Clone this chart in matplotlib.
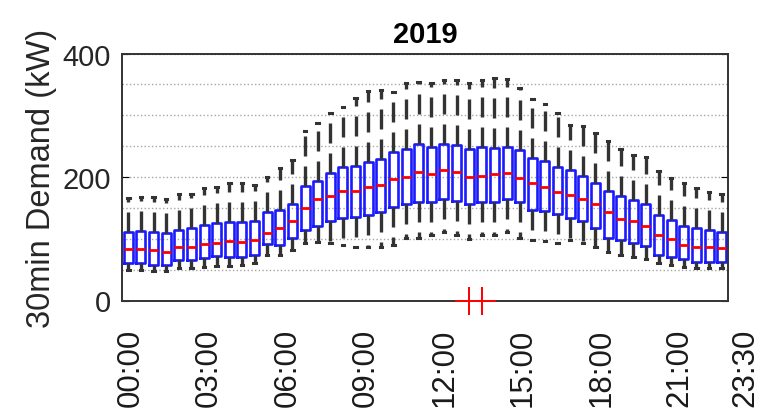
import numpy as np
import matplotlib
matplotlib.use("Agg")
import matplotlib.pyplot as plt

plt.rcParams['font.family'] = ['Liberation Sans', 'DejaVu Sans']

# half-hourly demand statistics (kW), one entry per 30 min slot from 00:00
q1 = [60, 60, 58, 58, 66, 66, 69, 72, 71, 71, 73, 91,
      90, 102, 114, 121, 129, 134, 136, 138, 144, 152, 157, 160,
      160, 164, 161, 157, 159, 160, 164, 160, 147, 145, 140, 133,
      129, 117, 102, 98, 93, 89, 74, 71, 67, 63, 63, 62]
median = [83, 83, 81, 78, 86, 86, 91, 93, 96, 94, 98, 110,
          117, 129, 150, 165, 169, 178, 178, 183, 187, 197, 200, 208,
          205, 211, 208, 200, 202, 205, 206, 198, 191, 183, 176, 171,
          164, 156, 143, 132, 129, 121, 106, 99, 90, 86, 86, 85]
q3 = [111, 112, 111, 109, 114, 118, 122, 125, 127, 127, 129, 144,
      147, 157, 186, 194, 206, 217, 218, 225, 229, 241, 245, 253,
      249, 253, 252, 245, 249, 247, 249, 244, 231, 226, 217, 211,
      201, 191, 177, 170, 163, 157, 138, 130, 120, 117, 114, 111]
whis_lo = [49, 49, 48, 48, 52, 52, 54, 56, 56, 57, 60, 74,
           74, 82, 93, 95, 93, 90, 87, 86, 86, 90, 102, 101,
           106, 111, 106, 100, 106, 106, 111, 102, 98, 97, 93, 98,
           93, 86, 78, 74, 71, 68, 60, 58, 54, 52, 52, 52]
whis_hi = [166, 168, 168, 164, 172, 173, 182, 184, 191, 191, 187, 200,
           215, 228, 274, 287, 303, 314, 328, 339, 341, 337, 352, 354,
           352, 357, 357, 352, 357, 360, 358, 344, 327, 318, 303, 284,
           283, 272, 258, 245, 236, 233, 210, 198, 190, 182, 176, 173]
# zero readings flagged as outliers
outliers = {27: [0, 0], 28: [0, 0]}

tick_hours = [0, 3, 6, 9, 12, 15, 18, 21, 23.5]
tick_labels = ["00:00", "03:00", "06:00", "09:00", "12:00",
               "15:00", "18:00", "21:00", "23:30"]

stats = []
for i in range(len(median)):
    stats.append({
        "med": median[i], "q1": q1[i], "q3": q3[i],
        "whislo": whis_lo[i], "whishi": whis_hi[i],
        "fliers": outliers.get(i, []),
    })

fig = plt.figure(figsize=(7.62, 4.14), dpi=100)
ax = fig.add_axes([122 / 762, 1 - 301.5 / 414, 606 / 762, 247 / 414])

pos = np.arange(1, len(stats) + 1)
bp = ax.bxp(
    stats, positions=pos, widths=0.72, capwidths=0.2,
    boxprops=dict(color="#1a1aff", linewidth=1.9),
    medianprops=dict(color="red", linewidth=2.0),
    whiskerprops=dict(color="0.2", linewidth=2.4, linestyle=(0, (6, 3))),
    capprops=dict(color="0.2", linewidth=2.2),
    flierprops=dict(marker="+", markeredgecolor="red", markersize=20,
                    markeredgewidth=1.3),
)
for f in bp["fliers"]:
    f.set_clip_on(False)
    f.set_zorder(5)

ax.set_xlim(0.5, len(stats) + 0.5)
ax.set_ylim(0, 400)
ax.set_yticks([0, 200, 400])
ax.set_yticks(np.arange(0, 401, 50), minor=True)
ax.yaxis.grid(True, which="both", linestyle=":", color="0.65", linewidth=1.0)
ax.set_axisbelow(True)
ax.set_xticks([])
ax.tick_params(axis="y", which="major", direction="in", length=5,
               right=True, labelsize=21, pad=8, labelcolor="0.15")
ax.tick_params(axis="y", which="minor", length=0)
for s in ax.spines.values():
    s.set_linewidth(1.4)
    s.set_color("0.2")

# time labels under the axis
trans = ax.get_xaxis_transform()
for h, lab in zip(tick_hours, tick_labels):
    ax.text(1.2 + 2.07 * h, -0.11, lab, transform=trans, rotation=90,
            ha="center", va="top", fontsize=22.5, color="0.1", clip_on=False)

ax.set_title("2019", fontsize=21, fontweight="bold", pad=8)
ax.set_ylabel("30min Demand (kW)", fontsize=23.5, labelpad=4, color="0.15")

fig.savefig("out.png", dpi=100)
